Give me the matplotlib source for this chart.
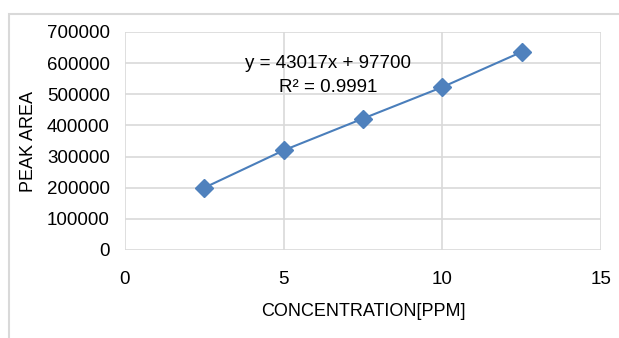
import matplotlib.pyplot as plt
from matplotlib.patches import Rectangle

conc = [2.5, 5, 7.5, 10, 12.5]
area = [200000, 320000, 422000, 523000, 636000]
xticks = [0, 5, 10, 15]
yticks = [0, 100000, 200000, 300000, 400000, 500000, 600000, 700000]
eq_text = 'y = 43017x + 97700'
r2_text = 'R² = 0.9991'

plt.rcParams['font.family'] = ['Liberation Sans', 'DejaVu Sans']

fig = plt.figure(figsize=(6.19, 3.38), dpi=100)
fig.patches.append(Rectangle((9 / 619, -0.1), 1.2, 1.1 - 14 / 338, transform=fig.transFigure,
                             fill=False, edgecolor='#d9d9d9', linewidth=1.5))
ax = fig.add_axes([125 / 619, 88 / 338, 476 / 619, 218 / 338])

ax.plot(conc, area, color='#4a7ebb', linewidth=1.5, marker='D', markersize=9,
        markerfacecolor='#4f81bd', markeredgecolor='#4f81bd', zorder=3)

ax.set_xlim(0, 15)
ax.set_ylim(0, 700000)
ax.set_xticks(xticks)
ax.set_yticks(yticks)
ax.grid(True, color='#d9d9d9', linewidth=1.2)
ax.set_axisbelow(True)
for s in ax.spines.values():
    s.set_visible(False)
ax.tick_params(length=0, labelsize=13.5, colors='black', pad=11)
ax.tick_params(axis='x', pad=15)

ax.text(6.4, 600000, eq_text, ha='center', va='center', fontsize=13.5)
ax.text(6.4, 523000, r2_text, ha='center', va='center', fontsize=13.5)

ax.set_xlabel('CONCENTRATION[PPM]', fontsize=13, labelpad=11)
ax.set_ylabel('PEAK AREA', fontsize=13, labelpad=7)

fig.savefig('out.png', dpi=100)
